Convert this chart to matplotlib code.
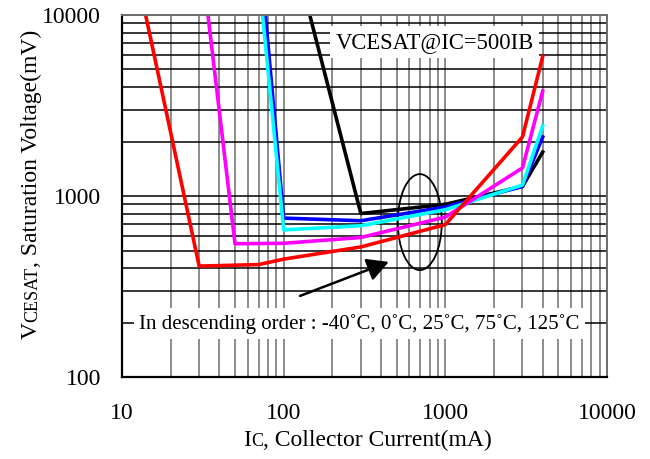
import matplotlib
matplotlib.use("Agg")
import matplotlib.pyplot as plt
from matplotlib.patches import Ellipse
from matplotlib.ticker import FixedLocator, NullFormatter

plt.rcParams['font.family'] = ['Liberation Serif', 'DejaVu Serif']

# Collector current (mA) and saturation voltage (mV) per temperature
ic_black = [145, 300, 1000, 3000, 4000]
vce_black = [10000, 800, 900, 1130, 1750]

ic_blue = [77, 100, 300, 1000, 3000, 4000]
vce_blue = [10000, 755, 730, 870, 1130, 2120]

ic_cyan = [74, 100, 300, 1000, 3000, 4000]
vce_cyan = [10000, 650, 685, 840, 1150, 2440]

ic_magenta = [34, 50, 100, 300, 1000, 3000, 4000]
vce_magenta = [10000, 545, 548, 590, 765, 1430, 3800]

ic_red = [14, 30, 70, 100, 300, 1000, 3000, 4000]
vce_red = [10000, 410, 418, 448, 523, 695, 2120, 5900]

x_ticks = [10, 100, 1000, 10000]
y_ticks = [100, 1000, 10000]

# label pieces: (text, fontsize) to mimic the small caps of the datasheet
xlabel_parts = [('I', 17), ('C', 13), (', Collector Current(mA)', 17)]
ylabel_parts = [('V', 17), ('CESAT', 13), (', Saturation Voltage(mV)', 17)]


def setup_axes(ax):
    """Log-log axes with the dense datasheet grid."""
    ax.set_xscale('log')
    ax.set_yscale('log')
    ax.set_xlim(10, 10000)
    ax.set_ylim(100, 10000)

    ax.xaxis.set_major_locator(FixedLocator(x_ticks))
    ax.yaxis.set_major_locator(FixedLocator(y_ticks))
    ax.set_xticklabels([str(t) for t in x_ticks])
    ax.set_yticklabels([str(t) for t in y_ticks])
    ax.xaxis.set_minor_formatter(NullFormatter())
    ax.yaxis.set_minor_formatter(NullFormatter())

    ax.grid(True, which='both', axis='x', color='#6e6e6e', lw=1.1)
    ax.grid(True, which='both', axis='y', color='black', lw=1.1)
    ax.set_axisbelow(True)

    ax.tick_params(which='both', length=0, labelsize=17)
    ax.tick_params(axis='x', pad=19)
    ax.tick_params(axis='y', pad=15)
    for side in ['left', 'bottom']:
        ax.spines[side].set_color('black')
        ax.spines[side].set_linewidth(1.6)
    for side in ['top', 'right']:
        ax.spines[side].set_color('#6e6e6e')
        ax.spines[side].set_linewidth(1.4)


def draw_pieces(fig, parts, x, y, rotation=0):
    """Draw text pieces on a shared baseline, centred on (x, y) in figure coords."""
    renderer = fig.canvas.get_renderer()
    W, H = fig.bbox.width, fig.bbox.height
    texts = [fig.text(0, 0, s, fontsize=size, rotation=rotation,
                      rotation_mode='anchor', ha='left', va='baseline')
             for s, size in parts]
    lengths = []
    for t in texts:
        bb = t.get_window_extent(renderer)
        lengths.append(bb.height if rotation else bb.width)
    pos = -sum(lengths) / 2
    for t, length in zip(texts, lengths):
        if rotation:
            t.set_position((x, y + pos / H))
        else:
            t.set_position((x + pos / W, y))
        pos += length


def main():
    fig = plt.figure(figsize=(6.5, 4.59), dpi=100)
    ax = fig.add_axes([0.1877, 0.1786, 0.7462, 0.7887])
    setup_axes(ax)

    lw = 2.6
    ax.plot(ic_black, vce_black, color='black', lw=lw)
    ax.plot(ic_blue, vce_blue, color='#0000ff', lw=lw)
    ax.plot(ic_cyan, vce_cyan, color='#00ffff', lw=lw)
    ax.plot(ic_magenta, vce_magenta, color='#ff00ff', lw=lw)
    ax.plot(ic_red, vce_red, color='#ff0000', lw=lw)

    # Annotations
    ax.text(0.44, 0.925, 'VCESAT@IC=500IB', transform=ax.transAxes,
            fontsize=16.3, ha='left', va='center',
            bbox=dict(facecolor='white', edgecolor='none', pad=4))
    ax.text(0.49, 0.147, 'In descending order : -40\u02daC, 0\u02daC, 25\u02daC, 75\u02daC, 125\u02daC',
            transform=ax.transAxes, fontsize=15, ha='center', va='center',
            bbox=dict(facecolor='white', edgecolor='none', pad=4))

    ax.add_patch(Ellipse((0.614, 0.428), 0.0907, 0.265, transform=ax.transAxes,
                         fill=False, edgecolor='black', lw=1.3))
    ax.annotate('', xy=(0.55, 0.318), xytext=(0.367, 0.224),
                xycoords='axes fraction', textcoords='axes fraction',
                arrowprops=dict(arrowstyle='-|>,head_length=1.3,head_width=0.7',
                                color='black', lw=1.8, shrinkA=0, shrinkB=0))

    draw_pieces(fig, xlabel_parts, 0.565, 0.028)
    draw_pieces(fig, ylabel_parts, 0.057, 0.599, rotation=90)

    fig.savefig('out.png', dpi=100)


if __name__ == "__main__":
    main()
